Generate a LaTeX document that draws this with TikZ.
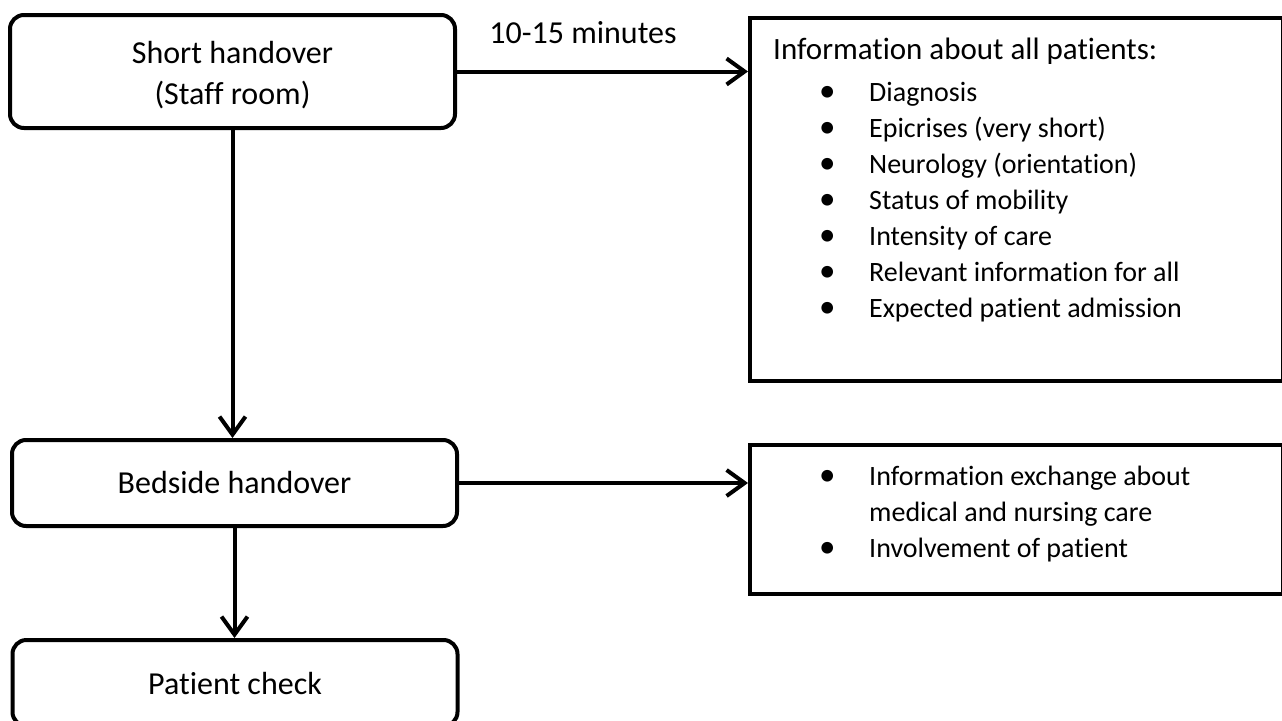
\documentclass[tikz,border=0pt]{standalone}
\usepackage{fontspec}
\setmainfont{Carlito}[Ligatures={NoCommon,NoContextual}]
\usetikzlibrary{arrows.meta,calc}
\newcommand\mybul{\hspace*{46pt}{\fontsize{33}{36}\selectfont\textbullet}}
\begin{document}
\begin{tikzpicture}[x=1pt,y=-1pt,
  procfont/.style={font=\fontsize{32}{41}\selectfont},
  proc/.style={draw,line width=4pt,rounded corners=14pt,minimum width=445pt,minimum height=86pt,inner sep=0pt,align=center,procfont},
  infobox/.style={draw,line width=4pt,inner sep=0pt},
  conn/.style={line width=4pt,-{Straight Barb[length=18pt,width=26pt]}},
  txt/.style={font=\fontsize{28}{36}\selectfont,inner sep=0pt}]
\useasboundingbox (0,0) rectangle (1282,720);
% left column
\node[proc,minimum height=113pt,label={[procfont,align=center,yshift=-4pt]center:Short handover\\(Staff room)}] (short) at (232.5,71.5) {};
\node[proc] (bed) at (234.5,483) {Bedside handover};
\node[proc] (check) at (235,683) {Patient check};
% right boxes
\node[infobox,minimum width=533pt,minimum height=363.5pt,anchor=north west] (info1) at (748,15.5) {};
\node[infobox,minimum width=533pt,minimum height=149pt,anchor=north west] (info2) at (748,443) {};
% texts in boxes
\node[txt,anchor=base west] (list1) at (773,59) {%
\begin{tabular}[t]{@{}p{96pt}@{}l@{}}
\multicolumn{2}{@{}l@{}}{\fontsize{31}{36}\selectfont Information about all patients:}\\[6pt]
\mybul & Diagnosis\\
\mybul & Epicrises (very short)\\
\mybul & Neurology (orientation)\\
\mybul & Status of mobility\\
\mybul & Intensity of care\\
\mybul & Relevant information for all\\
\mybul & Expected patient admission
\end{tabular}};
\node[txt,anchor=base west] (list2) at (773,485) {%
\begin{tabular}[t]{@{}p{96pt}@{}l@{}}
\mybul & Information exchange about\\
 & medical and nursing care\\
\mybul & Involvement of patient
\end{tabular}};
% connectors
\draw[conn] (short.east) -- (short.east -| info1.west);
\node[procfont,inner sep=0pt] (dur) at (583,33) {10-15 minutes};
\draw[conn] (short.south) -- (short.south |- bed.north);
\draw[conn] (bed.east) -- (bed.east -| info2.west);
\draw[conn] (bed.south) -- (bed.south |- check.north);
\end{tikzpicture}
\end{document}
